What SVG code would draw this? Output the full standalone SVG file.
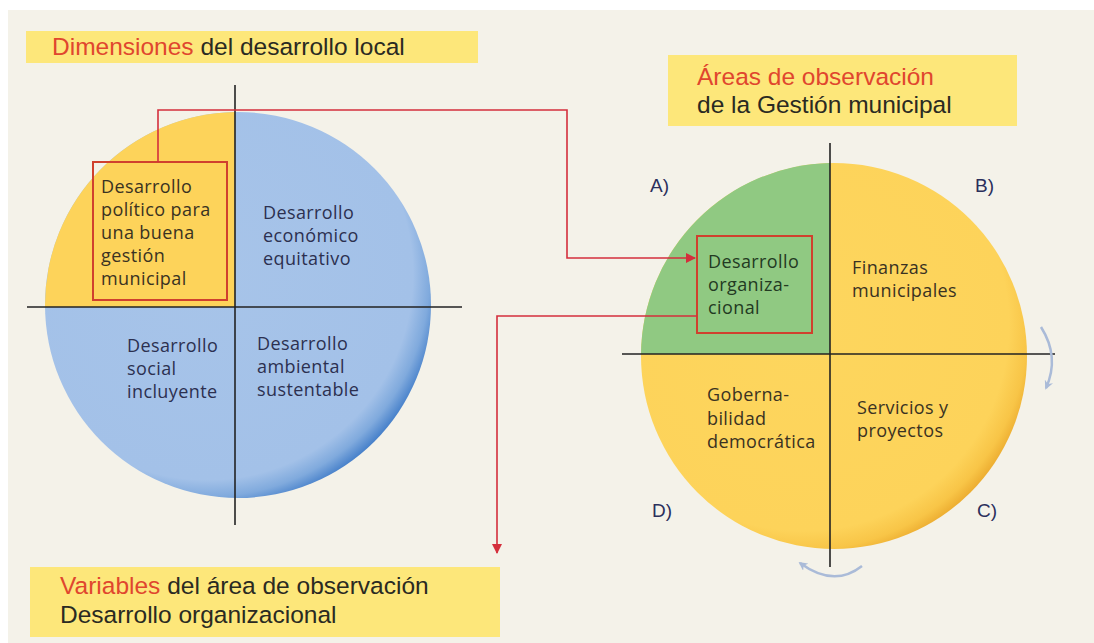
<svg xmlns="http://www.w3.org/2000/svg" width="1094" height="643" viewBox="0 0 1094 643">
<defs>
<style>
.title{font-family:"Liberation Sans",Arial,sans-serif;font-size:24.5px;fill:#2a2a22}
.red{fill:#e0462e}
.body{font-family:"Open Sans","Noto Sans",sans-serif;font-size:18px;letter-spacing:0.4px}
.navy{fill:#2c3050}
.brown{fill:#3a3222}
.lbl{font-family:"Liberation Sans",Arial,sans-serif;font-size:19px;fill:#2b2f5c}
.axis{stroke:#222;stroke-width:1.6;fill:none}
.conn{stroke:#d42f3c;stroke-width:1.6;fill:none}
.box{stroke:#d0402e;stroke-width:2;fill:none}
.tbox{fill:#fde77a}
.rot{stroke:#aabbd8;stroke-width:2.5;fill:none}
</style>
<radialGradient id="gBlue" cx="0.42" cy="0.42" r="0.62">
<stop offset="0" stop-color="#a7c4e9"/>
<stop offset="0.86" stop-color="#a3c1e8"/>
<stop offset="0.93" stop-color="#80aadd"/>
<stop offset="1" stop-color="#3b78c6"/>
</radialGradient>
<radialGradient id="gYel" cx="0.42" cy="0.42" r="0.62">
<stop offset="0" stop-color="#fdd65e"/>
<stop offset="0.86" stop-color="#fdd35a"/>
<stop offset="0.94" stop-color="#f8c547"/>
<stop offset="1" stop-color="#eaa82c"/>
</radialGradient>
<marker id="arrRed" viewBox="0 0 10 10" refX="9" refY="5" markerWidth="10" markerHeight="10" markerUnits="userSpaceOnUse" orient="auto">
<path d="M0,0 L10,5 L0,10 Z" fill="#d42f3c"/>
</marker>
<marker id="arrBlue" viewBox="0 0 10 10" refX="8" refY="5" markerWidth="9" markerHeight="9" markerUnits="userSpaceOnUse" orient="auto">
<path d="M0,0 L10,5 L0,10 L3,5 Z" fill="#aabbd8"/>
</marker>
</defs>
<rect x="0" y="0" width="1094" height="643" fill="#ffffff"/>
<rect x="8" y="10" width="1086" height="633" fill="#f4f2e9"/>

<g id="title-dimensiones">
<rect class="tbox" x="26" y="31" width="452" height="32"/>
<text class="title" x="52" y="55"><tspan class="red">Dimensiones</tspan> del desarrollo local</text>
</g>

<g id="circle-dimensiones">
<circle cx="238" cy="305" r="193" fill="url(#gBlue)"/>
<path d="M235,307 L45,307 A193,193 0 0 1 235,112 Z" fill="#fdd35a"/>
<line class="axis" x1="235" y1="85" x2="235" y2="525"/>
<line class="axis" x1="27" y1="307" x2="462" y2="307"/>
</g>

<g id="node-politico">
<rect class="box" x="93" y="162" width="134" height="138"/>
<text class="body brown"><tspan x="101" y="193">Desarrollo</tspan><tspan x="101" y="216">político para</tspan><tspan x="101" y="239">una buena</tspan><tspan x="101" y="262">gestión</tspan><tspan x="101" y="285">municipal</tspan></text>
</g>
<g id="node-economico">
<text class="body navy"><tspan x="263" y="219">Desarrollo</tspan><tspan x="263" y="242">económico</tspan><tspan x="263" y="265">equitativo</tspan></text>
</g>
<g id="node-social">
<text class="body navy"><tspan x="127" y="352">Desarrollo</tspan><tspan x="127" y="375">social</tspan><tspan x="127" y="398">incluyente</tspan></text>
</g>
<g id="node-ambiental">
<text class="body navy"><tspan x="257" y="350">Desarrollo</tspan><tspan x="257" y="373">ambiental</tspan><tspan x="257" y="396">sustentable</tspan></text>
</g>

<g id="title-areas">
<rect class="tbox" x="668" y="55" width="349" height="71"/>
<text class="title"><tspan class="red" x="697" y="85">Áreas de observación</tspan><tspan x="697" y="113">de la Gestión municipal</tspan></text>
</g>

<g id="circle-areas">
<circle cx="834" cy="356" r="193" fill="url(#gYel)"/>
<path d="M830,354 L641,354 A193,193 0 0 1 830,163 Z" fill="#90c982"/>
<line class="axis" x1="830" y1="143" x2="830" y2="567"/>
<line class="axis" x1="622" y1="354" x2="1055" y2="354"/>
<text class="lbl" x="650" y="192">A)</text>
<text class="lbl" x="975" y="192">B)</text>
<text class="lbl" x="977" y="517">C)</text>
<text class="lbl" x="652" y="517">D)</text>
</g>

<g id="node-organizacional">
<rect class="box" x="697" y="236" width="115" height="97"/>
<text class="body" fill="#233a22"><tspan x="708" y="268">Desarrollo</tspan><tspan x="708" y="291">organiza-</tspan><tspan x="708" y="314">cional</tspan></text>
</g>
<g id="node-finanzas">
<text class="body brown"><tspan x="852" y="274">Finanzas</tspan><tspan x="852" y="297">municipales</tspan></text>
</g>
<g id="node-gobernabilidad">
<text class="body brown"><tspan x="707" y="401">Goberna-</tspan><tspan x="707" y="425">bilidad</tspan><tspan x="707" y="448">democrática</tspan></text>
</g>
<g id="node-servicios">
<text class="body brown"><tspan x="857" y="414">Servicios y</tspan><tspan x="857" y="437">proyectos</tspan></text>
</g>

<g id="title-variables">
<rect class="tbox" x="30" y="567" width="470" height="70"/>
<text class="title"><tspan class="red" x="60" y="594">Variables</tspan><tspan> del área de observación</tspan><tspan x="60" y="623">Desarrollo organizacional</tspan></text>
</g>

<g id="connectors">
<polyline class="conn" points="158,162 158,110 567,110 567,258 695,258" marker-end="url(#arrRed)"/>
<polyline class="conn" points="697,316 497,316 497,553" marker-end="url(#arrRed)"/>
<path class="rot" d="M1041,327 Q1060,357 1046,388" marker-end="url(#arrBlue)"/>
<path class="rot" d="M862,566 Q834,588 800,563" marker-end="url(#arrBlue)"/>
</g>
</svg>
